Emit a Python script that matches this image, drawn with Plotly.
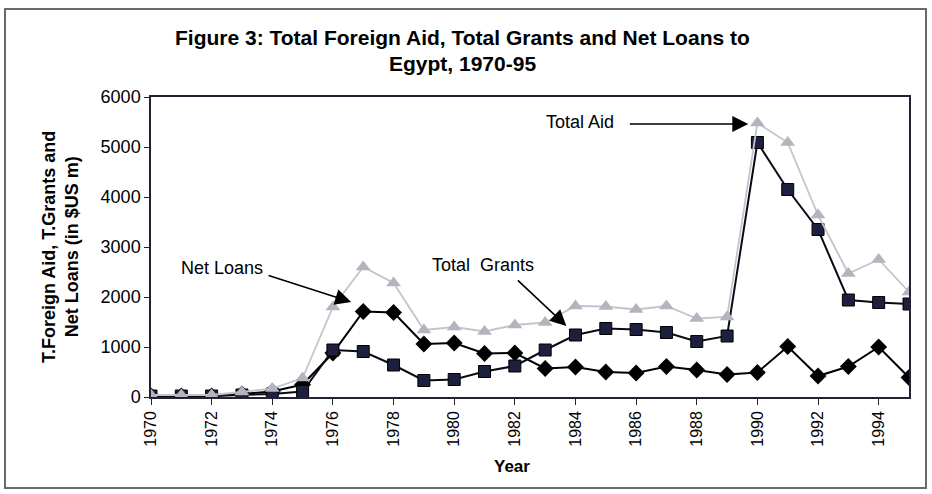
import plotly.graph_objects as go

years = list(range(1970, 1996))
total_aid = [40, 40, 40, 100, 170, 380, 1800, 2600, 2280, 1340, 1400, 1310, 1440, 1490,
             1820, 1810, 1750, 1820, 1570, 1600, 5480, 5090, 3640, 2470, 2750, 2100]
total_grants = [20, 20, 20, 40, 60, 110, 940, 910, 640, 330, 350, 510, 620, 940,
                1240, 1370, 1350, 1290, 1110, 1220, 5090, 4150, 3350, 1940, 1890, 1860]
net_loans = [20, 20, 20, 60, 110, 250, 880, 1710, 1690, 1060, 1080, 870, 880, 570,
             600, 500, 480, 610, 540, 450, 490, 1010, 420, 610, 1000, 390]
x_ticks = list(range(1970, 1996, 2))
y_ticks = [0, 1000, 2000, 3000, 4000, 5000, 6000]

FONT = "Liberation Sans, Arial, sans-serif"
L, R, T, B = 151, 23, 97, 97
PW, PH = 932 - L - R, 494 - T - B


def px(xp):
    return (xp - L) / PW


def py(yp):
    return (494 - B - yp) / PH


fig = go.Figure()
fig.add_trace(go.Scatter(x=years, y=net_loans, mode="lines+markers", name="Net Loans",
                         line=dict(color="#000000", width=2),
                         marker=dict(symbol="diamond", size=13, color="#000000")))
fig.add_trace(go.Scatter(x=years, y=total_grants, mode="lines+markers", name="Total Grants",
                         line=dict(color="#0a0a14", width=2),
                         marker=dict(symbol="square", size=12, color="#1c1f3d",
                                     line=dict(color="#000000", width=1))))
fig.add_trace(go.Scatter(x=years, y=total_aid, mode="lines+markers", name="Total Aid",
                         line=dict(color="#c4c4cc", width=1.8),
                         marker=dict(symbol="triangle-up", size=13, color="#b4b4be")))

# outer frame
fig.add_shape(type="rect", xref="paper", yref="paper",
              x0=px(5), x1=px(926), y0=py(488), y1=py(9),
              line=dict(color="#6a6a6a", width=2), layer="below")

ann_font = dict(family=FONT, size=18, color="#000000")
title_font = dict(family=FONT, size=21, color="#000000")
arrow = dict(showarrow=True, arrowhead=2, arrowsize=2.0, arrowwidth=1.6,
             arrowcolor="#000000", text="", xref="x", yref="y", axref="pixel", ayref="pixel")
annotations = [
    dict(x=px(462), y=py(38), xref="paper", yref="paper",
         text="<b>Figure 3: Total Foreign Aid, Total Grants and Net Loans to</b>",
         showarrow=False, xanchor="center", yanchor="middle", font=title_font),
    dict(x=px(462), y=py(64), xref="paper", yref="paper",
         text="<b>Egypt, 1970-95</b>",
         showarrow=False, xanchor="center", yanchor="middle", font=title_font),
    dict(x=px(60), y=0.5, xref="paper", yref="paper",
         text="<b>T.Foreign Aid, T.Grants and<br>Net Loans (in $US m)</b>",
         textangle=-90, showarrow=False, xanchor="center", yanchor="middle",
         font=dict(family=FONT, size=18, color="#000000")),
    dict(x=px(512), y=py(466), xref="paper", yref="paper",
         text="<b>Year</b>", showarrow=False, xanchor="center", yanchor="middle",
         font=dict(family=FONT, size=17, color="#000000")),
    # labels
    dict(x=px(580), y=py(122), xref="paper", yref="paper", text="Total Aid",
         showarrow=False, xanchor="center", yanchor="middle", font=ann_font),
    dict(x=px(222), y=py(268), xref="paper", yref="paper", text="Net Loans",
         showarrow=False, xanchor="center", yanchor="middle", font=ann_font),
    dict(x=px(483), y=py(265), xref="paper", yref="paper", text="Total  Grants",
         showarrow=False, xanchor="center", yanchor="middle", font=ann_font),
    # arrows
    dict(x=1989.7, y=5460, ax=-120, ay=0, **arrow),
    dict(x=1976.6, y=1900, ax=-84, ay=-27, **arrow),
    dict(x=1983.7, y=1420, ax=-50, ay=-47, **arrow),
]

fig.update_layout(
    width=932, height=494,
    margin=dict(l=L, r=R, t=T, b=B),
    paper_bgcolor="#ffffff", plot_bgcolor="#ffffff",
    showlegend=False,
    font=dict(family=FONT, color="#000000"),
    annotations=annotations,
)
fig.update_xaxes(range=[1970, 1995], tickvals=x_ticks, ticktext=[str(v) for v in x_ticks],
                 tickangle=-90, ticks="outside", ticklen=6, tickcolor="#222",
                 showgrid=False, zeroline=False, showline=True, linecolor="#222233",
                 linewidth=1.5, mirror=True, tickfont=dict(family=FONT, size=16))
fig.update_yaxes(range=[0, 6000], tickvals=y_ticks, ticks="outside", ticklen=5,
                 tickcolor="#222", showgrid=False, zeroline=False, showline=True,
                 linecolor="#222233", linewidth=1.5, mirror=True,
                 tickfont=dict(family=FONT, size=18))

fig.write_html("out.html")
